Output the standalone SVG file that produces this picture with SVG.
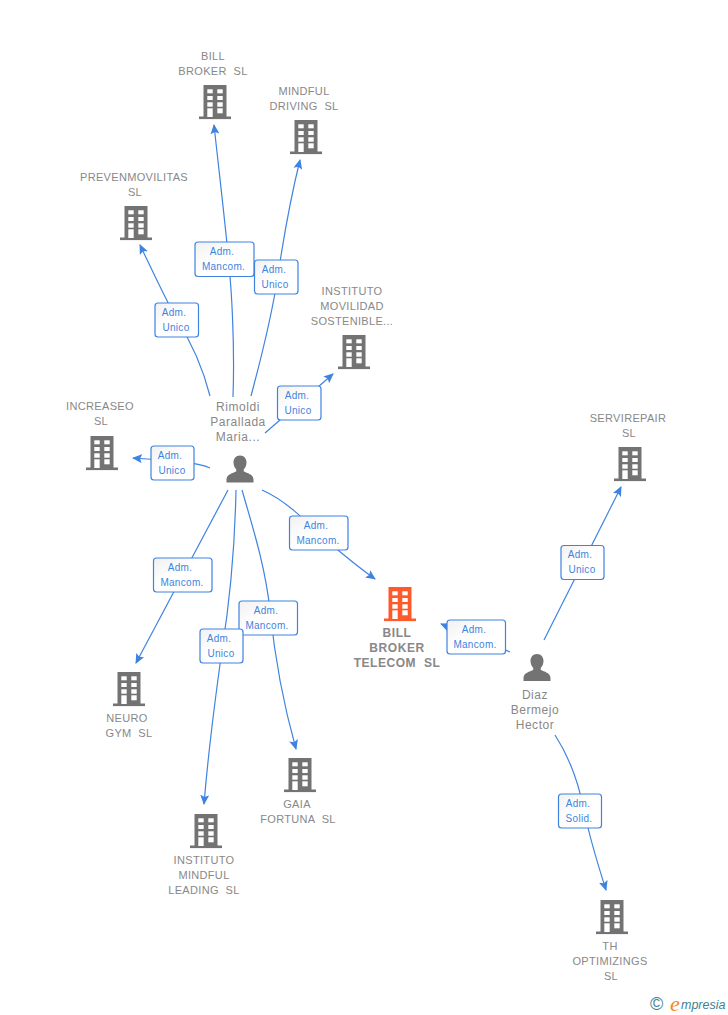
<svg xmlns="http://www.w3.org/2000/svg" width="728" height="1015" viewBox="0 0 728 1015">
<style>
text{font-family:"Liberation Sans",Arial,sans-serif;white-space:pre}
.n{font-size:11px;letter-spacing:.33px;fill:#888;text-anchor:middle}
.m{font-size:12px;letter-spacing:.55px;fill:#888;text-anchor:middle}
.t{font-size:12px;letter-spacing:.55px;font-weight:bold;fill:#888;text-anchor:middle}
.l{font-size:10px;letter-spacing:.3px;fill:#3f83e0;text-anchor:middle}
.b{fill:url(#lg);stroke:#3f83e0;stroke-width:1.2}
.c{fill:none;stroke:#3f83e0;stroke-width:1.2;marker-end:url(#a)}
.w{fill:#fff}
</style>
<defs>
<linearGradient id="lg" x1="0" y1="0" x2="1" y2="1"><stop offset="0" stop-color="#f1f1f1"/><stop offset=".45" stop-color="#fff"/></linearGradient>
<marker id="a" markerUnits="userSpaceOnUse" markerWidth="11" markerHeight="10" refX="9" refY="4.5" orient="auto"><path d="M0 0L10 4.5L0 9L2 4.5Z" fill="#3f83e0"/></marker>
<g id="wins">
<rect class="w" x="-7.7" y="4.3" width="5.4" height="4"/><rect class="w" x="2.3" y="4.3" width="5.4" height="4"/>
<rect class="w" x="-7.7" y="11" width="5.4" height="4"/><rect class="w" x="2.3" y="11" width="5.4" height="4"/>
<rect class="w" x="-7.7" y="17.3" width="5.4" height="4.4"/><rect class="w" x="2.3" y="17.3" width="5.4" height="4.4"/>
<rect class="w" x="-7.7" y="23.3" width="5.4" height="8.7"/><rect class="w" x="2.3" y="23.3" width="5.4" height="5"/>
</g>
<g id="bld"><rect x="-11.5" y="0" width="23" height="32" fill="#737373"/><rect x="-16" y="31.5" width="32" height="2.6" fill="#737373"/><use href="#wins"/></g>
<g id="bldo"><rect x="-11.5" y="0" width="23" height="32" fill="#ff5a2c"/><rect x="-16" y="31.5" width="32" height="2.6" fill="#ff5a2c"/><use href="#wins"/></g>
<path id="per" d="M0 0C4.200 0 6.500 3.300 6.500 7C6.500 10 5.300 12.200 3.800 13.800L3.800 16C7 17.600 13.500 18.800 13.500 24L13.500 27L-13.500 27L-13.500 24C-13.500 18.800 -7 17.600 -3.800 16L-3.800 13.800C-5.300 12.200 -6.500 10 -6.500 7C-6.500 3.300 -4.200 0 0 0Z" fill="#737373"/>
</defs>
<g id="connectors">
<path class="c" d="M233 397C235 340 231 285 229 265C226 230 220 180 214 125"/>
<path class="c" d="M251 396C262 355 272 315 278 275C284 235 290 200 300 160"/>
<path class="c" d="M210 396C203 368 190 340 176 318C164 296 152 270 140 245"/>
<path class="c" d="M265 433L333 374"/>
<path class="c" d="M210 468C195 461 160 460 133 458"/>
<path class="c" d="M262 490C285 500 305 520 320 535C340 552 358 567 375 579"/>
<path class="c" d="M228 490L136 663"/>
<path class="c" d="M236 490C235 540 230 600 222 650C215 700 208 755 204 804"/>
<path class="c" d="M242 490C252 525 265 565 270 610C275 660 285 710 296 749"/>
<path class="c" d="M510 652L441 624"/>
<path class="c" d="M544 640L621 487"/>
<path class="c" d="M555 735C568 755 578 780 584 810C590 840 598 865 606 890"/>
</g>
<g id="n-bill-broker"><use href="#bld" x="215" y="85"/><text class="n" x="213" y="60">BILL</text><text class="n" x="213" y="75">BROKER  SL</text></g>
<g id="n-mindful"><use href="#bld" x="306" y="120"/><text class="n" x="304" y="95">MINDFUL</text><text class="n" x="304" y="110">DRIVING  SL</text></g>
<g id="n-preven"><use href="#bld" x="136" y="206"/><text class="n" x="134" y="181">PREVENMOVILITAS</text><text class="n" x="135" y="196">SL</text></g>
<g id="n-instituto-mov"><use href="#bld" x="354" y="335"/><text class="n" x="352" y="295">INSTITUTO</text><text class="n" x="352" y="310">MOVILIDAD</text><text class="n" x="352" y="325">SOSTENIBLE...</text></g>
<g id="n-increaseo"><use href="#bld" x="102" y="436"/><text class="n" x="100" y="410">INCREASEO</text><text class="n" x="101" y="425">SL</text></g>
<g id="n-servirepair"><use href="#bld" x="630" y="447"/><text class="n" x="628" y="422">SERVIREPAIR</text><text class="n" x="629" y="437">SL</text></g>
<g id="n-neuro"><use href="#bld" x="129" y="672"/><text class="n" x="127" y="722">NEURO</text><text class="n" x="129" y="737">GYM  SL</text></g>
<g id="n-instituto-mind"><use href="#bld" x="206" y="814"/><text class="n" x="204" y="864">INSTITUTO</text><text class="n" x="204" y="879">MINDFUL</text><text class="n" x="204" y="894">LEADING  SL</text></g>
<g id="n-gaia"><use href="#bld" x="300" y="758"/><text class="n" x="297" y="808">GAIA</text><text class="n" x="298" y="823">FORTUNA  SL</text></g>
<g id="n-th"><use href="#bld" x="612" y="900"/><text class="n" x="610" y="950">TH</text><text class="n" x="610" y="965">OPTIMIZINGS</text><text class="n" x="611" y="980">SL</text></g>
<g id="n-telecom"><use href="#bldo" x="400" y="587"/><text class="t" x="397" y="637">BILL</text><text class="t" x="397" y="652">BROKER</text><text class="t" x="397" y="667">TELECOM  SL</text></g>
<g id="n-rimoldi"><use href="#per" x="240" y="455.500"/><text class="m" x="238" y="411">Rimoldi</text><text class="m" x="238" y="426">Parallada</text><text class="m" x="238" y="441">Maria...</text></g>
<g id="n-diaz"><use href="#per" x="537" y="654"/><text class="m" x="535" y="699">Diaz</text><text class="m" x="535" y="714">Bermejo</text><text class="m" x="535" y="729">Hector</text></g>
<g id="labels">
<g><rect class="b" x="195" y="242" width="59" height="34.500" rx="3"/><text class="l" x="222" y="255">Adm.</text><text class="l" x="223.500" y="270">Mancom.</text></g>
<g><rect class="b" x="254.500" y="260" width="43.500" height="34" rx="3"/><text class="l" x="274" y="273">Adm.</text><text class="l" x="275" y="288">Unico</text></g>
<g><rect class="b" x="155" y="303" width="43.500" height="34" rx="3"/><text class="l" x="174" y="316">Adm.</text><text class="l" x="176" y="331">Unico</text></g>
<g><rect class="b" x="277.500" y="386" width="43.500" height="34" rx="3"/><text class="l" x="297" y="399">Adm.</text><text class="l" x="298" y="414">Unico</text></g>
<g><rect class="b" x="151" y="446" width="43" height="34" rx="3"/><text class="l" x="170" y="459">Adm.</text><text class="l" x="172" y="474">Unico</text></g>
<g><rect class="b" x="289.500" y="516" width="58.500" height="34" rx="3"/><text class="l" x="316" y="529">Adm.</text><text class="l" x="318" y="544">Mancom.</text></g>
<g><rect class="b" x="153.500" y="558" width="58.500" height="34" rx="3"/><text class="l" x="180" y="571">Adm.</text><text class="l" x="182" y="586">Mancom.</text></g>
<g><rect class="b" x="239" y="601" width="58.500" height="34" rx="3"/><text class="l" x="266" y="614">Adm.</text><text class="l" x="267" y="629">Mancom.</text></g>
<g><rect class="b" x="200" y="629" width="43" height="34" rx="3"/><text class="l" x="219" y="642">Adm.</text><text class="l" x="221" y="657">Unico</text></g>
<g><rect class="b" x="447" y="620" width="58.500" height="34" rx="3"/><text class="l" x="474" y="633">Adm.</text><text class="l" x="475" y="648">Mancom.</text></g>
<g><rect class="b" x="561" y="545.500" width="43" height="34" rx="3"/><text class="l" x="580" y="558">Adm.</text><text class="l" x="582" y="573">Unico</text></g>
<g><rect class="b" x="558.500" y="794" width="43" height="34" rx="3"/><text class="l" x="578" y="807">Adm.</text><text class="l" x="579" y="822">Solid.</text></g>
</g>
<g id="logo"><text x="650" y="1010" font-size="18" fill="#3d7f95">©</text><text x="670" y="1011" font-size="22" font-style="italic" fill="#f08a24" style="font-family:'Liberation Serif',serif">e</text><text x="681" y="1009" font-size="12.500" font-style="italic" fill="#3d7f95">mpresia</text></g>
</svg>
